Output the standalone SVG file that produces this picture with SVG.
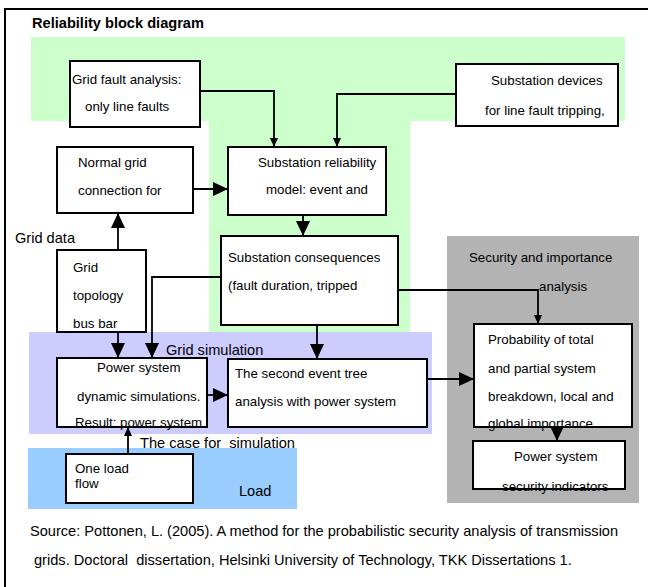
<svg xmlns="http://www.w3.org/2000/svg" width="648" height="587" viewBox="0 0 648 587">
<style>
text{font-family:"Liberation Sans",Arial,sans-serif;fill:#000;white-space:pre;}
.t{font-size:13.3px;}
.l{font-size:14.6px;}
.b{fill:#fff;stroke:#000;stroke-width:2;}
.c{fill:none;stroke:#000;stroke-width:1.8;}
</style>
<defs>
<marker id="big" markerUnits="userSpaceOnUse" viewBox="0 0 15 14" markerWidth="15" markerHeight="14" refX="15" refY="7" orient="auto"><path d="M0,0 L15,7 L0,14 z" fill="#000"/></marker>
<marker id="sm" markerUnits="userSpaceOnUse" viewBox="0 0 9 8" markerWidth="9" markerHeight="8" refX="9" refY="4" orient="auto"><path d="M0,0 L9,4 L0,8 z" fill="#000"/></marker>
</defs>
<rect x="0" y="0" width="648" height="587" fill="#fff"/>
<rect x="5" y="9" width="700" height="700" fill="none" stroke="#000" stroke-width="2"/>
<text x="32" y="28" style="font-size:14.6px;font-weight:bold">Reliability block diagram</text>
<g id="regions">
<polygon points="31,37 625,37 625,121 410,121 410,332 209,332 209,121 31,121" fill="#ccffcc"/>
<rect x="29" y="332" width="403" height="102" fill="#ccccff"/>
<rect x="28" y="448" width="269" height="61" fill="#99ccff"/>
<rect x="447" y="236" width="192" height="267" fill="#b3b3b3"/>
<text class="l" x="166" y="355">Grid simulation</text>
<text class="l" x="239" y="496">Load</text>
<text class="t" x="469" y="262">Security and importance</text>
<text class="t" x="539" y="291">analysis</text>
<text class="l" x="15" y="243">Grid data</text>
<text class="l" x="140" y="448" xml:space="preserve">The case for  simulation</text>
</g>
<g id="connectors">
<path class="c" d="M200,91 H274 V147" marker-end="url(#sm)"/>
<path class="c" d="M456,94 H337 V147" marker-end="url(#sm)"/>
<path class="c" d="M193,189 H228" marker-end="url(#big)"/>
<path class="c" d="M303,215 V236" marker-end="url(#big)"/>
<path class="c" d="M118,250 V213" marker-end="url(#big)"/>
<path class="c" d="M118,332 V358" marker-end="url(#big)"/>
<path class="c" d="M221,277 H152 V358" marker-end="url(#big)"/>
<path class="c" d="M317,325 V359" marker-end="url(#big)"/>
<path class="c" d="M207,395 H228" marker-end="url(#big)"/>
<path class="c" d="M427,379 H474" marker-end="url(#big)"/>
<path class="c" d="M398,290 H538 V324" marker-end="url(#sm)"/>
<path class="c" d="M557,427 V441" marker-end="url(#big)"/>
<path class="c" d="M128,454 V427" marker-end="url(#sm)"/>
</g>
<g id="grid-fault">
<rect class="b" x="70" y="61" width="130" height="66"/>
<text class="t" x="72" y="84">Grid fault analysis:</text>
<text class="t" x="85" y="111">only line faults</text>
</g>
<g id="substation-devices">
<rect class="b" x="456" y="64" width="162" height="62"/>
<text class="t" x="491" y="85">Substation devices</text>
<text class="t" x="485" y="115">for line fault tripping,</text>
</g>
<g id="normal-grid">
<rect class="b" x="57" y="147" width="136" height="66"/>
<text class="t" x="78" y="167">Normal grid</text>
<text class="t" x="78" y="195">connection for</text>
</g>
<g id="substation-reliability">
<rect class="b" x="228" y="147" width="158" height="68"/>
<text class="t" x="258" y="167">Substation reliability</text>
<text class="t" x="266" y="194">model: event and</text>
</g>
<g id="substation-consequences">
<rect class="b" x="221" y="236" width="177" height="89"/>
<text class="t" x="228" y="262">Substation consequences</text>
<text class="t" x="228" y="290">(fault duration, tripped</text>
</g>
<g id="grid-topology">
<rect class="b" x="57" y="250" width="89" height="82"/>
<text class="t" x="73" y="272">Grid</text>
<text class="t" x="73" y="300">topology</text>
<text class="t" x="73" y="328">bus bar</text>
</g>
<g id="power-system">
<rect class="b" x="57" y="358" width="150" height="69"/>
<text class="t" x="97" y="372">Power system</text>
<text class="t" x="77" y="401">dynamic simulations.</text>
<text class="t" x="75" y="427">Result: power system</text>
</g>
<g id="second-event">
<rect class="b" x="228" y="359" width="199" height="68"/>
<text class="t" x="235" y="378">The second event tree</text>
<text class="t" x="235" y="406">analysis with power system</text>
</g>
<g id="probability">
<rect class="b" x="474" y="324" width="158" height="103"/>
<text class="t" x="488" y="344">Probability of total</text>
<text class="t" x="488" y="373">and partial system</text>
<text class="t" x="488" y="401">breakdown, local and</text>
<text class="t" x="488" y="428">global importance</text>
</g>
<g id="security-indicators">
<rect class="b" x="473" y="441" width="152" height="48"/>
<text class="t" x="514" y="461">Power system</text>
<text class="t" x="502" y="491">security indicators</text>
</g>
<g id="load-flow">
<rect class="b" x="66" y="454" width="127" height="49"/>
<text class="t" x="75" y="473">One load</text>
<text class="t" x="75" y="488">flow</text>
</g>
<text class="l" x="30" y="536">Source: Pottonen, L. (2005). A method for the probabilistic security analysis of transmission</text>
<text class="l" x="34" y="565" xml:space="preserve">grids. Doctoral  dissertation, Helsinki University of Technology, TKK Dissertations 1.</text>
</svg>
